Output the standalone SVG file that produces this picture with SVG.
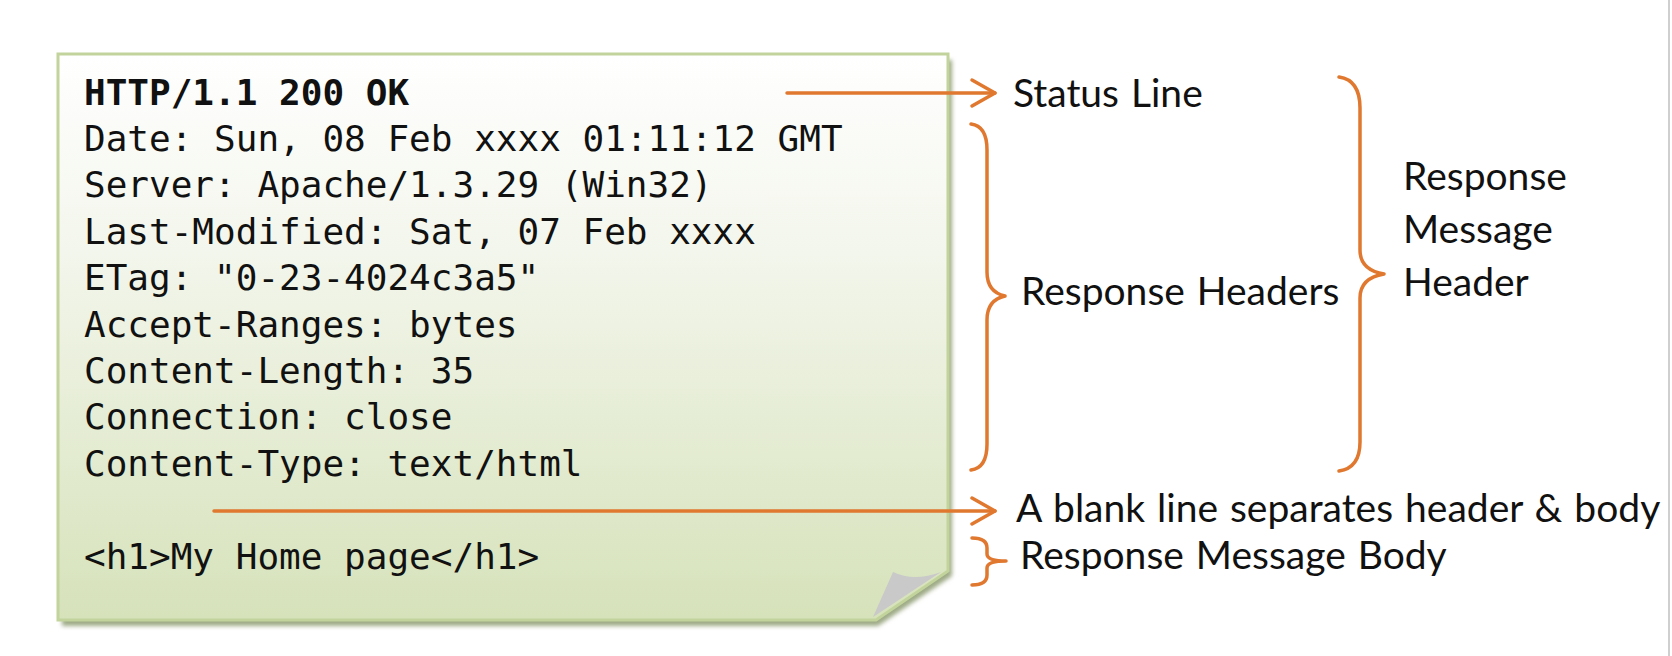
<svg xmlns="http://www.w3.org/2000/svg" width="1672" height="656" viewBox="0 0 1672 656">
<defs>
<linearGradient id="paper" x1="0" y1="0" x2="0" y2="1">
<stop offset="0" stop-color="#ffffff"/>
<stop offset="0.35" stop-color="#f3f6ec"/>
<stop offset="1" stop-color="#d6e2ba"/>
</linearGradient>
<filter id="shadow" x="-5%" y="-5%" width="110%" height="115%">
<feGaussianBlur stdDeviation="2"/>
</filter>
<marker id="chev" markerUnits="userSpaceOnUse" markerWidth="40" markerHeight="40" viewBox="-30 -20 40 40" refX="0" refY="0" orient="auto">
<path d="M-23,-13 L0,0 L-23,13" fill="none" stroke="#E0782F" stroke-width="3.5" stroke-linecap="round" stroke-linejoin="round"/>
</marker>
</defs>
<style>
.code{font-family:"DejaVu Sans Mono","Liberation Mono",monospace;font-size:36px;fill:#111}
.lbl{font-family:Lato,"Open Sans",sans-serif;font-size:39px;word-spacing:2px;fill:#111}
.conn{fill:none;stroke:#E0782F;stroke-width:3.5;stroke-linecap:round}
.brace{fill:none;stroke:#E0782F;stroke-width:3.5;stroke-linecap:round;stroke-linejoin:round}
</style>
<rect width="1672" height="656" fill="#ffffff"/>
<line x1="1669" y1="0" x2="1669" y2="656" stroke="#cfcfcf" stroke-width="2"/>
<g id="note">
<path d="M62,60 H952 V576 L878,626 H62 Z" fill="#9eaa86" filter="url(#shadow)"/>
<path d="M58,54 H948 V571 L876,620 H58 Z" fill="url(#paper)" stroke="#c2d49c" stroke-width="3"/>
<path d="M893,572 Q914,582 941,572 L873,617 Z" fill="#c9c9c9"/>
<text class="code" x="84" y="104.5" font-weight="bold">HTTP/1.1 200 OK</text>
<text class="code" x="84" y="150.9">Date: Sun, 08 Feb xxxx 01:11:12 GMT</text>
<text class="code" x="84" y="197.3">Server: Apache/1.3.29 (Win32)</text>
<text class="code" x="84" y="243.7">Last-Modified: Sat, 07 Feb xxxx</text>
<text class="code" x="84" y="290.1">ETag: "0-23-4024c3a5"</text>
<text class="code" x="84" y="336.5">Accept-Ranges: bytes</text>
<text class="code" x="84" y="382.9">Content-Length: 35</text>
<text class="code" x="84" y="429.3">Connection: close</text>
<text class="code" x="84" y="475.7">Content-Type: text/html</text>
<text class="code" x="84" y="568.5">&lt;h1&gt;My Home page&lt;/h1&gt;</text>
</g>
<g id="connectors">
<line class="conn" x1="787" y1="93" x2="995" y2="93" marker-end="url(#chev)"/>
<line class="conn" x1="214" y1="511" x2="995" y2="511" marker-end="url(#chev)"/>
<path class="brace" d="M971,124 Q987,126 987,150 V272 Q987,292 1005,296 Q987,300 987,320 V444 Q987,468 971,470"/>
<path class="brace" d="M1339,77 Q1360,80 1360,108 V250 Q1360,270 1384,274 Q1360,278 1360,298 V442 Q1360,468 1339,471"/>
<path class="brace" d="M972,538 Q987,538 987,548 V554 Q987,561 1006,561 Q987,561 987,568 V575 Q987,585 972,585"/>
</g>
<g id="label-status"><text class="lbl" x="1013" y="107">Status Line</text></g>
<g id="label-headers"><text class="lbl" x="1021" y="305">Response Headers</text></g>
<g id="label-msgheader">
<text class="lbl" x="1403" y="190">Response</text>
<text class="lbl" x="1403" y="243">Message</text>
<text class="lbl" x="1403" y="296">Header</text>
</g>
<g id="label-blank"><text class="lbl" x="1016" y="522">A blank line separates header &amp; body</text></g>
<g id="label-body"><text class="lbl" x="1020" y="569">Response Message Body</text></g>
</svg>
